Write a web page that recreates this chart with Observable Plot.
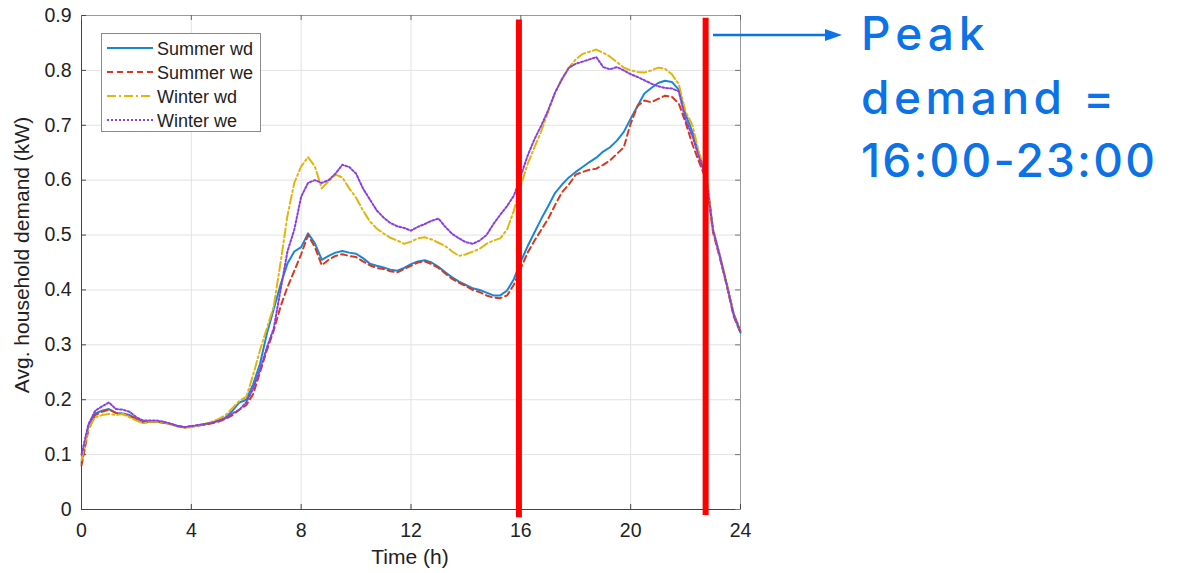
<!DOCTYPE html>
<html><head><meta charset="utf-8">
<script src="https://cdn.jsdelivr.net/npm/d3@7"></script>
<script src="https://cdn.jsdelivr.net/npm/@observablehq/plot@0.6"></script>
<style>
body{margin:0;background:#fff;}
#wrap{position:relative;width:1184px;height:573px;overflow:hidden;font-family:"Liberation Sans",Arial,sans-serif;color:#222;}
#legend{position:absolute;left:101px;top:33px;width:160px;height:99px;border:1px solid #8a8a8a;background:#fff;box-sizing:border-box;}
.ttl{position:absolute;font-size:21px;color:#222;white-space:nowrap;}
#ylab{left:22px;top:255px;transform:translate(-50%,-50%) rotate(-90deg);}
#xlab{left:410px;top:557px;transform:translate(-50%,-50%);}
#note{position:absolute;left:861px;top:2px;font-family:Inter,"Noto Sans",sans-serif;font-size:46px;font-weight:500;line-height:63.5px;color:#0b72e7;white-space:nowrap;}
#note .l1{letter-spacing:5px;}
#note .l2{letter-spacing:4.5px;}
#note .l3{letter-spacing:2.2px;}
#arrow{position:absolute;left:0;top:0;}
</style></head>
<body><div id="wrap"></div>
<script>
const hours = [0,0.25,0.5,0.75,1,1.25,1.5,1.75,2,2.25,2.5,2.75,3,3.25,3.5,3.75,4,4.25,4.5,4.75,5,5.25,5.5,5.75,6,6.25,6.5,6.75,7,7.25,7.5,7.75,8,8.25,8.5,8.75,9,9.25,9.5,9.75,10,10.25,10.5,10.75,11,11.25,11.5,11.75,12,12.25,12.5,12.75,13,13.25,13.5,13.75,14,14.25,14.5,14.75,15,15.25,15.5,15.75,16,16.25,16.5,16.75,17,17.25,17.5,17.75,18,18.25,18.5,18.75,19,19.25,19.5,19.75,20,20.25,20.5,20.75,21,21.25,21.5,21.75,22,22.25,22.5,22.75,23,23.25,23.5,23.75,24];

const summerWd = [0.085,0.15,0.175,0.18,0.183,0.176,0.175,0.172,0.165,0.158,0.16,0.16,0.158,0.156,0.152,0.15,0.151,0.153,0.155,0.158,0.162,0.168,0.18,0.195,0.2,0.228,0.265,0.32,0.365,0.41,0.448,0.47,0.478,0.503,0.485,0.455,0.462,0.468,0.471,0.468,0.466,0.458,0.448,0.444,0.441,0.437,0.435,0.44,0.447,0.452,0.454,0.45,0.442,0.432,0.423,0.415,0.409,0.403,0.4,0.395,0.39,0.39,0.399,0.42,0.452,0.48,0.505,0.53,0.553,0.577,0.592,0.605,0.615,0.624,0.633,0.641,0.652,0.66,0.672,0.688,0.712,0.735,0.758,0.768,0.777,0.781,0.779,0.765,0.72,0.688,0.645,0.61,0.508,0.46,0.41,0.355,0.322];

const summerWe = [0.08,0.145,0.172,0.178,0.182,0.176,0.174,0.17,0.165,0.16,0.16,0.16,0.158,0.156,0.152,0.15,0.151,0.153,0.155,0.157,0.16,0.165,0.172,0.182,0.19,0.21,0.25,0.29,0.326,0.37,0.405,0.435,0.465,0.5,0.478,0.445,0.455,0.462,0.465,0.462,0.46,0.452,0.445,0.44,0.438,0.434,0.432,0.438,0.444,0.45,0.452,0.447,0.44,0.43,0.42,0.413,0.407,0.4,0.396,0.39,0.386,0.385,0.39,0.41,0.44,0.468,0.49,0.51,0.53,0.555,0.578,0.592,0.61,0.615,0.619,0.621,0.628,0.636,0.648,0.66,0.703,0.735,0.745,0.742,0.748,0.754,0.752,0.74,0.705,0.665,0.632,0.6,0.505,0.458,0.408,0.352,0.322];

const winterWd = [0.09,0.148,0.168,0.172,0.174,0.172,0.174,0.168,0.162,0.157,0.16,0.16,0.158,0.155,0.151,0.149,0.15,0.153,0.156,0.16,0.165,0.172,0.185,0.198,0.205,0.245,0.29,0.33,0.37,0.45,0.535,0.595,0.625,0.642,0.625,0.585,0.598,0.61,0.605,0.585,0.568,0.545,0.525,0.512,0.503,0.495,0.49,0.484,0.488,0.494,0.496,0.492,0.486,0.48,0.47,0.462,0.465,0.47,0.475,0.484,0.49,0.494,0.51,0.545,0.59,0.63,0.66,0.69,0.725,0.76,0.785,0.805,0.82,0.83,0.834,0.838,0.832,0.825,0.815,0.805,0.8,0.797,0.796,0.8,0.805,0.803,0.793,0.775,0.725,0.7,0.648,0.615,0.51,0.462,0.412,0.358,0.325];

const winterWe = [0.1,0.155,0.18,0.188,0.195,0.183,0.182,0.178,0.168,0.162,0.162,0.162,0.16,0.156,0.152,0.15,0.152,0.154,0.156,0.158,0.162,0.166,0.175,0.182,0.195,0.22,0.255,0.295,0.33,0.4,0.47,0.51,0.57,0.595,0.6,0.595,0.6,0.612,0.628,0.624,0.612,0.585,0.565,0.545,0.532,0.522,0.516,0.513,0.508,0.515,0.52,0.526,0.53,0.515,0.502,0.494,0.487,0.484,0.49,0.5,0.52,0.537,0.553,0.572,0.608,0.645,0.675,0.7,0.728,0.76,0.784,0.805,0.812,0.816,0.82,0.824,0.806,0.802,0.806,0.8,0.793,0.788,0.782,0.776,0.771,0.768,0.767,0.762,0.71,0.68,0.64,0.605,0.51,0.462,0.41,0.356,0.325];

const seriesNames = ["Summer wd","Summer we","Winter wd","Winter we"];
const seriesColors = ["#1a86d8","#d9381e","#e2b50a","#8a3fe0"];
const seriesDash = [null,"6,4","9,3,2,3","2,2"];
const xTicks = [0,4,8,12,16,20,24];
const yTicks = [0,0.1,0.2,0.3,0.4,0.5,0.6,0.7,0.8,0.9];
const peakBounds = [15.93,22.73];
const noteLines = ["Peak","demand =","16:00-23:00"];

const allSeries = [summerWd, summerWe, winterWd, winterWe];
const rows = [];
allSeries.forEach((vals,i)=>vals.forEach((v,j)=>rows.push({h:hours[j], v, s:seriesNames[i]})));

const tx = 0.18, ty = 0.009; // inner tick length in data units
const lineMarks = seriesNames.map((name,i)=>Plot.line(rows.filter(r=>r.s===name),{x:"h",y:"v",stroke:seriesColors[i],strokeWidth:2,strokeDasharray:seriesDash[i]}));

const chart = Plot.plot({
  width:1184, height:573,
  marginLeft:81, marginRight:444, marginTop:15, marginBottom:64,
  style:{fontFamily:'"Liberation Sans", Arial, sans-serif', fontSize:"19.5px", color:"#222", background:"#fff"},
  x:{domain:[0,24]},
  y:{domain:[0,0.9]},
  marks:[
    Plot.gridX(xTicks,{stroke:"#e2e2e2",strokeOpacity:1}),
    Plot.gridY(yTicks,{stroke:"#e2e2e2",strokeOpacity:1}),
    Plot.frame({stroke:"#9a9a9a"}),
    Plot.ruleX([0],{stroke:"#444"}),
    Plot.ruleY([0],{stroke:"#444"}),
    Plot.ruleY(yTicks,{x1:0,x2:tx,stroke:"#444"}),
    Plot.ruleY(yTicks,{x1:24-tx,x2:24,stroke:"#777"}),
    Plot.ruleX(xTicks,{y1:0,y2:ty,stroke:"#444"}),
    Plot.ruleX(xTicks,{y1:0.9-ty,y2:0.9,stroke:"#666"}),
    Plot.axisX({ticks:xTicks,tickSize:0,tickPadding:14,tickFormat:d=>String(d),label:null}),
    Plot.axisY({ticks:yTicks,tickSize:0,tickPadding:10,tickFormat:d=>d===0?"0":d.toFixed(1),label:null}),
    ...lineMarks,
    Plot.ruleX([peakBounds[0]],{y1:-0.015,y2:0.892,stroke:"#ff0000",strokeWidth:6}),
    Plot.ruleX([peakBounds[1]],{y1:-0.011,y2:0.895,stroke:"#ff0000",strokeWidth:6})
  ]
});

const wrap = document.getElementById("wrap");
wrap.appendChild(chart);

// legend
const ns = "http://www.w3.org/2000/svg";
const leg = document.createElement("div"); leg.id="legend";
const ls = document.createElementNS(ns,"svg"); ls.setAttribute("width",158); ls.setAttribute("height",97);
seriesNames.forEach((name,i)=>{
  const cy = 14 + i*24;
  const l = document.createElementNS(ns,"line");
  l.setAttribute("x1",5); l.setAttribute("x2",51); l.setAttribute("y1",cy); l.setAttribute("y2",cy);
  l.setAttribute("stroke",seriesColors[i]); l.setAttribute("stroke-width",2);
  if (seriesDash[i]) l.setAttribute("stroke-dasharray",seriesDash[i]);
  ls.appendChild(l);
  const t = document.createElementNS(ns,"text");
  t.setAttribute("x",55); t.setAttribute("y",cy+6.5);
  t.setAttribute("font-size","18px"); t.setAttribute("fill","#222");
  t.setAttribute("font-family",'"Liberation Sans", Arial, sans-serif');
  t.textContent = name; ls.appendChild(t);
});
leg.appendChild(ls); wrap.appendChild(leg);

// axis titles
const yl = document.createElement("div"); yl.className="ttl"; yl.id="ylab"; yl.textContent="Avg. household demand (kW)"; wrap.appendChild(yl);
const xl = document.createElement("div"); xl.className="ttl"; xl.id="xlab"; xl.textContent="Time (h)"; wrap.appendChild(xl);

// annotation
const note = document.createElement("div"); note.id="note";
note.innerHTML = noteLines.map((s,i)=>`<span class="l${i+1}">${s}</span>`).join("<br>");
wrap.appendChild(note);
const ar = document.createElementNS(ns,"svg"); ar.id="arrow"; ar.setAttribute("width",1184); ar.setAttribute("height",573);
ar.innerHTML = '<line x1="713" y1="35" x2="828" y2="35" stroke="#0b72e7" stroke-width="2.5"/><polygon points="825,29 842,35 825,41" fill="#0b72e7"/>';
wrap.appendChild(ar);
</script>
</body></html>
